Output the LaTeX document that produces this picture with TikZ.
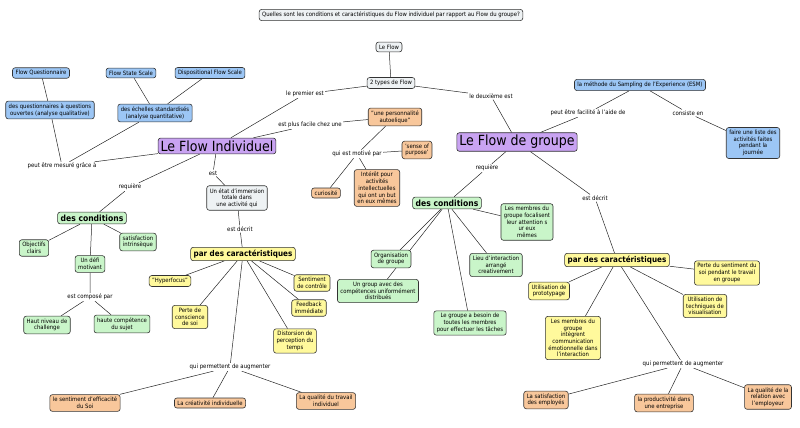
\documentclass[tikz,border=0pt]{standalone}
\usepackage{fontspec}
\setmainfont{DejaVu Sans Condensed}
\usetikzlibrary{backgrounds}
\definecolor{cpur}{HTML}{C9A3F2}
\definecolor{cblu}{HTML}{9CC6F5}
\definecolor{cgrn}{HTML}{C9F5C9}
\definecolor{cyel}{HTML}{FFF99C}
\definecolor{cora}{HTML}{F8C79B}
\definecolor{cgry}{HTML}{EEF2F4}
\tikzset{
 box/.style={draw=black!80,line width=0.6pt,rounded corners=2.5pt,align=center,font=\fontsize{5.9}{6.7}\selectfont,inner xsep=3pt,inner ysep=2.6pt},
 pur/.style={box,fill=cpur,font=\fontsize{14}{15}\selectfont,inner sep=2.5pt},
 blu/.style={box,fill=cblu},
 grn/.style={box,fill=cgrn},
 grnb/.style={box,fill=cgrn,font=\bfseries\fontsize{8.5}{9}\selectfont},
 yel/.style={box,fill=cyel},
 yelb/.style={box,fill=cyel,font=\bfseries\fontsize{8}{9}\selectfont},
 ora/.style={box,fill=cora},
 gry/.style={box,fill=cgry},
 lab/.style={font=\fontsize{6}{7}\selectfont,inner sep=1pt,fill=white},
 ln/.style={draw=black!85,line width=0.5pt}
}
\begin{document}
\begin{tikzpicture}[x=1pt,y=-1pt]
\useasboundingbox (0,0) rectangle (800,428);
\node[gry] (title) at (391,15) {Quelles sont les conditions et caractéristiques du Flow individuel par rapport au Flow du groupe?};
\node[gry] (lf) at (389,47) {Le Flow};
\node[gry] (types) at (391,83) {2 types de Flow};
\node[lab] (prem) at (305,94) {le premier est};
\node[lab] (deux) at (491,96) {le deuxième est};
\node[pur] (lfi) at (217,146) {Le Flow Individuel};
\node[pur] (lfg) at (517,142) {Le Flow de groupe};
\node[ora] (perso) at (395,117) {"une personnalité\\autoelique"};
\node[lab] (facile) at (310,125) {est plus facile chez une};
\node[lab] (motive) at (357,154) {qui est motivé par};
\node[ora] (sense) at (417,150) {'sense of\\purpose'};
\node[ora] (curio) at (326,193) {curiosité};
\node[ora] (inter) at (377,188) {Intérêt pour\\activités\\intellectuelles\\qui ont un but\\en eux mêmes};
\node[blu] (fq) at (41,73) {Flow Questionnaire};
\node[blu] (fss) at (131,73) {Flow State Scale};
\node[blu] (dfs) at (210,73) {Dispositional Flow Scale};
\node[blu] (quest) at (50,110) {des questionnaires à questions\\ouvertes (analyse qualitative)};
\node[blu] (ech) at (155,113) {des échelles standardisés\\(analyse quantitative)};
\node[lab] (mes) at (62,166) {peut être mesuré grâce à};
\node[lab] (req) at (130,187) {requière};
\node[grnb] (cond) at (92,218) {des conditions};
\node[grn] (obj) at (34,248) {Objectifs\\clairs};
\node[grn] (sat) at (138,242) {satisfaction\\intrinsèque};
\node[grn] (defi) at (90,264) {Un défi\\motivant};
\node[lab] (comp) at (90,297) {est composé par};
\node[grn] (haut) at (47,325) {Haut niveau de\\challenge};
\node[grn] (hcomp) at (122,324) {haute compétence\\du sujet};
\node[lab] (est) at (213,173) {est};
\node[gry] (etat) at (237,198) {Un état d'immersion\\totale dans\\une activité qui};
\node[lab] (decr) at (240,229) {est décrit};
\node[yelb] (car) at (243,254) {par des caractéristiques};
\node[yel] (hyp) at (170,281) {"Hyperfocus"};
\node[yel] (perte) at (190,317) {Perte de\\conscience\\de soi};
\node[yel] (sent) at (312,283) {Sentiment\\de contrôle};
\node[yel] (feed) at (309,308) {Feedback\\immédiate};
\node[yel] (dist) at (295,341) {Distorsion de\\perception du\\temps};
\node[lab] (perm) at (230,367) {qui permettent de augmenter};
\node[ora] (eff) at (85,403) {le sentiment d'efficacité\\du Soi};
\node[ora] (crea) at (210,403) {La créativité individuelle};
\node[ora] (qual) at (326,401) {La qualité du travail\\individuel};
% right
\node[blu] (esm) at (640,85) {la méthode du Sampling de l'Experience (ESM)};
\node[lab] (fac) at (588,113) {peut être facilité à l'aide de};
\node[lab] (cons) at (688,113) {consiste en};
\node[blu] (faire) at (753,143) {faire une liste des\\activités faites\\pendant la\\journée};
\node[lab] (req2) at (487,168) {requière};
\node[grnb] (cond2) at (447,203) {des conditions};
\node[grn] (memb) at (527,222) {Les membres du\\groupe focalisent\\leur attention s\\ur eux\\mêmes};
\node[grn] (org) at (391,259) {Organisation\\de groupe};
\node[grn] (lieu) at (496,265) {Lieu d'interaction\\arrangé\\creativement};
\node[grn] (ung) at (378,291) {Un group avec des\\compétences uniformément\\distribués};
\node[grn] (legr) at (470,323) {Le groupe a besoin de\\toutes les membres\\pour effectuer les tâches};
\node[lab] (decr2) at (595,198) {est décrit};
\node[yelb] (car2) at (617,260) {par des caractéristiques};
\node[yel] (pss) at (727,273) {Perte du sentiment du\\soi pendant le travail\\en groupe};
\node[yel] (proto) at (549,291) {Utilisation de\\prototypage};
\node[yel] (tech) at (705,306) {Utilisation de\\techniques de\\visualisation};
\node[yel] (mint) at (573,338) {Les membres du\\groupe\\intègrent\\communication\\émotionnelle dans\\l'interaction};
\node[lab] (perm2) at (683,364) {qui permettent de augmenter};
\node[ora] (satis) at (546,400) {La satisfaction\\des employés};
\node[ora] (prod) at (664,403) {la productivité dans\\une entreprise};
\node[ora] (qrel) at (768,397) {La qualité de la\\relation avec\\l'employeur};
\begin{scope}[on background layer]
\path[ln] (lf)--(types) (types)--(prem)--(lfi) (types)--(deux)--(lfg);
\path[ln] (lfi)--(facile)--(perso) (perso)--(motive) (motive)--(sense) (motive)--(curio) (motive)--(inter);
\path[ln] (fq)--(quest) (fss)--(ech) (dfs)--(ech) (lfi)--(mes) (mes)--(quest) (mes)--(ech);
\path[ln] (lfi)--(req)--(cond) (cond)--(obj) (cond)--(sat) (cond)--(defi) (defi)--(comp) (comp)--(haut) (comp)--(hcomp);
\path[ln] (lfi)--(est)--(etat) (etat)--(decr)--(car);
\path[ln] (car)--(hyp) (car)--(perte) (car)--(sent) (car)--(feed) (car)--(dist) (car)--(perm);
\path[ln] (perm)--(eff) (perm)--(crea) (perm)--(qual);
\path[ln] (lfg)--(fac)--(esm) (esm)--(cons)--(faire);
\path[ln] (lfg)--(req2)--(cond2) (cond2)--(memb) (cond2)--(org) (cond2)--(lieu) (cond2)--(ung) (cond2)--(legr);
\path[ln] (lfg)--(decr2)--(car2) (car2)--(pss) (car2)--(proto) (car2)--(tech) (car2)--(mint) (car2)--(perm2);
\path[ln] (perm2)--(satis) (perm2)--(prod) (perm2)--(qrel);
\end{scope}
\end{tikzpicture}
\end{document}
